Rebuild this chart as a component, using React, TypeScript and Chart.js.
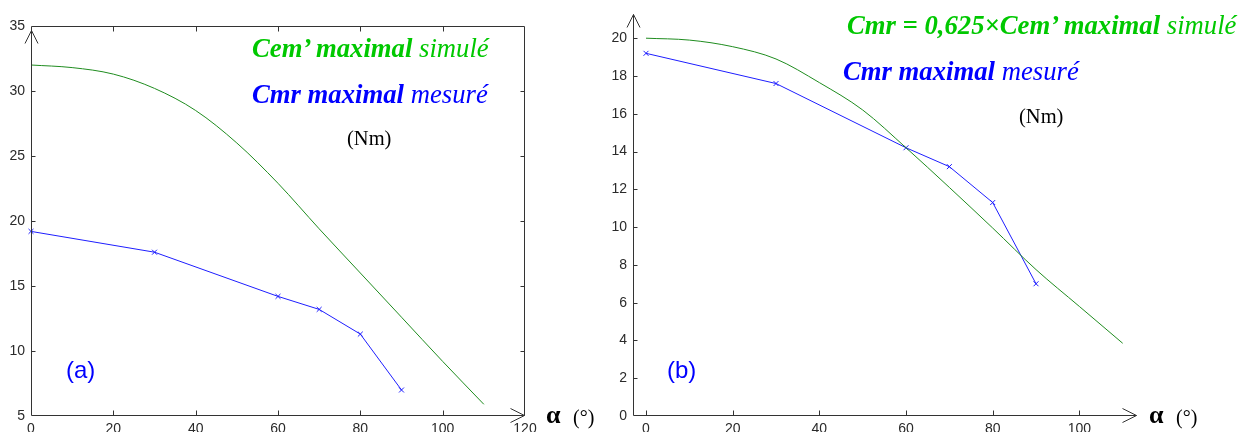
import React, { useEffect, useRef } from "react";
import { Chart, registerables } from "chart.js";
Chart.register(...registerables);

// ---- data ----
const alphaSim = [0, 10, 20, 30, 40, 50, 60, 70, 80, 90, 100, 110];
const cemSimA = [32.0, 31.8, 31.3, 30.2, 28.5, 26.0, 22.9, 19.4, 16.0, 12.6, 9.2, 5.9];
const cmrSimB = [20.0, 19.9, 19.55, 18.9, 17.65, 16.2, 14.2, 12.1, 9.95, 7.75, 5.8, 3.85];
const alphaMes = [0, 30, 60, 70, 80, 90];
const cmrMes = [19.2, 17.6, 14.2, 13.2, 11.3, 7.0];
const xTicksA = [0, 20, 40, 60, 80, 100, 120];
const yTicksA = [5, 10, 15, 20, 25, 30, 35];
const xTicksB = [0, 20, 40, 60, 80, 100];
const yTicksB = [0, 2, 4, 6, 8, 10, 12, 14, 16, 18, 20];

const GREEN_LINE = "#1f8c1f";
const BLUE_LINE = "#1e1eff";
const AXIS = "#333333";
const TICK_FONT = { family: "'Liberation Sans', Arial, sans-serif", size: 14 };

type DecorOpts = { box: boolean; tickLen: number; arrowX: boolean; arrowY: boolean };

const decorPlugin = {
  id: "decor",
  afterDraw(chart: any, _args: any, opts: DecorOpts) {
    const { ctx, chartArea } = chart;
    const { left, right, top, bottom } = chartArea;
    const xs = chart.scales.x;
    const ys = chart.scales.y;
    const L = Math.round(left) + 0.5;
    const R = Math.round(right) - 0.5;
    const T = Math.round(top) + 0.5;
    const B = Math.round(bottom) - 0.5;
    ctx.save();
    ctx.strokeStyle = AXIS;
    ctx.lineWidth = 1;
    ctx.beginPath();
    ctx.moveTo(L, T);
    ctx.lineTo(L, B);
    ctx.lineTo(R, B);
    if (opts.box) {
      ctx.moveTo(L, T);
      ctx.lineTo(R, T);
      ctx.lineTo(R, B);
    }
    const tl = opts.tickLen;
    xs.ticks.forEach((t: any) => {
      const px = Math.round(xs.getPixelForValue(t.value)) + 0.5;
      if (px <= L + 1 || px >= R - 1) return;
      ctx.moveTo(px, B);
      ctx.lineTo(px, B - tl);
      if (opts.box) {
        ctx.moveTo(px, T);
        ctx.lineTo(px, T + tl);
      }
    });
    ys.ticks.forEach((t: any) => {
      const py = Math.round(ys.getPixelForValue(t.value)) + 0.5;
      if (py >= B - 1 || (opts.box && py <= T + 1)) return;
      ctx.moveTo(L, py);
      ctx.lineTo(L + tl - 1, py);
      if (opts.box) {
        ctx.moveTo(R, py);
        ctx.lineTo(R - tl + 1, py);
      }
    });
    ctx.stroke();
    ctx.beginPath();
    if (opts.arrowY) {
      const ay = opts.box ? T + 4 : T;
      ctx.moveTo(L - 6.5, ay + 13);
      ctx.lineTo(L, ay);
      ctx.lineTo(L + 6.5, ay + 13);
    }
    if (opts.arrowX) {
      ctx.moveTo(R - 14, B - 7);
      ctx.lineTo(R, B);
      ctx.lineTo(R - 14, B + 7);
    }
    ctx.stroke();
    ctx.restore();
  },
};

function makeChart(
  canvas: HTMLCanvasElement,
  cfg: {
    xMin: number; xMax: number; yMin: number; yMax: number;
    xTicks: number[]; yTicks: number[];
    sim: number[]; yWidth: number; pad: { top: number; right: number };
    decor: DecorOpts;
  }
) {
  return new Chart(canvas, {
    type: "line",
    data: {
      datasets: [
        {
          label: "simulé",
          data: alphaSim.map((a, i) => ({ x: a, y: cfg.sim[i] })),
          borderColor: GREEN_LINE,
          borderWidth: 1,
          pointRadius: 0,
          cubicInterpolationMode: "monotone",
          fill: false,
        },
        {
          label: "mesuré",
          data: alphaMes.map((a, i) => ({ x: a, y: cmrMes[i] })),
          borderColor: BLUE_LINE,
          borderWidth: 1,
          pointStyle: "crossRot",
          pointRadius: 3.5,
          pointBorderWidth: 1,
          pointBorderColor: BLUE_LINE,
          tension: 0,
          fill: false,
        },
      ],
    },
    options: {
      animation: false,
      responsive: false,
      maintainAspectRatio: false,
      clip: false as any,
      layout: { padding: { top: cfg.pad.top, right: cfg.pad.right, left: 0, bottom: 0 } },
      plugins: {
        legend: { display: false },
        tooltip: { enabled: false },
        decor: cfg.decor,
      } as any,
      scales: {
        x: {
          type: "linear",
          min: cfg.xMin,
          max: cfg.xMax,
          grid: { display: false, drawTicks: false },
          border: { display: false },
          ticks: { font: TICK_FONT, color: "#2a2a2a", padding: 5, autoSkip: false, maxRotation: 0 },
          afterBuildTicks: (s: any) => {
            s.ticks = cfg.xTicks.map((v) => ({ value: v }));
          },
          afterFit: (s: any) => {
            s.height = 16;
          },
        },
        y: {
          type: "linear",
          min: cfg.yMin,
          max: cfg.yMax,
          grid: { display: false, drawTicks: false },
          border: { display: false },
          ticks: { font: TICK_FONT, color: "#2a2a2a", padding: 6, autoSkip: false },
          afterBuildTicks: (s: any) => {
            s.ticks = cfg.yTicks.map((v) => ({ value: v }));
          },
          afterFit: (s: any) => {
            s.width = cfg.yWidth;
          },
        },
      },
    } as any,
    plugins: [decorPlugin],
  });
}

const SERIF = "'Liberation Serif', 'Times New Roman', serif";
const SANS = "'Liberation Sans', Arial, sans-serif";

function Txt(props: {
  x: number; base: number; size: number; serif?: boolean; color: string; children: any;
  weight?: string; italic?: boolean;
}) {
  const k = props.serif === false ? 0.8465 : 0.8375;
  return (
    <div
      style={{
        position: "absolute",
        left: props.x,
        top: props.base - k * props.size,
        fontFamily: props.serif === false ? SANS : SERIF,
        fontSize: props.size,
        lineHeight: 1,
        color: props.color,
        whiteSpace: "nowrap",
        fontWeight: props.weight || "normal",
        fontStyle: props.italic ? "italic" : "normal",
      }}
    >
      {props.children}
    </div>
  );
}

export default function App() {
  const refA = useRef<HTMLCanvasElement>(null);
  const refB = useRef<HTMLCanvasElement>(null);

  useEffect(() => {
    const a = makeChart(refA.current!, {
      xMin: 0, xMax: 120, yMin: 5, yMax: 35,
      xTicks: xTicksA, yTicks: yTicksA, sim: cemSimA,
      yWidth: 31, pad: { top: 26, right: 75 },
      decor: { box: true, tickLen: 5, arrowX: true, arrowY: true },
    });
    const b = makeChart(refB.current!, {
      xMin: -3, xMax: 113.3, yMin: 0, yMax: 21.26,
      xTicks: xTicksB, yTicks: yTicksB, sim: cmrSimB,
      yWidth: 33, pad: { top: 12, right: 116 },
      decor: { box: false, tickLen: 5, arrowX: true, arrowY: true },
    });
    return () => {
      a.destroy();
      b.destroy();
    };
  }, []);

  const green = "#00c800";
  const blue = "#0000ff";
  return (
    <div style={{ position: "absolute", left: 0, top: 0, width: 1253, height: 432, overflow: "hidden", background: "#fff" }}>
      <canvas ref={refA} width={600} height={432} style={{ position: "absolute", left: 0, top: 0 }} />
      <canvas ref={refB} width={653} height={432} style={{ position: "absolute", left: 600, top: 0 }} />

      <Txt x={252} base={57} size={26.7} color={green}>
        <b><i>Cem’ maximal</i></b> <i>simulé</i>
      </Txt>
      <Txt x={252} base={103} size={26.7} color={blue}>
        <b><i>Cmr maximal</i></b> <i>mesuré</i>
      </Txt>
      <Txt x={347} base={145} size={20.5} color="#000">(Nm)</Txt>
      <Txt x={66} base={378} size={24} serif={false} color={blue}>(a)</Txt>
      <Txt x={546} base={424} size={26} color="#000" weight="bold">α</Txt>
      <Txt x={573} base={424} size={20} color="#000">(°)</Txt>

      <Txt x={847} base={34} size={26.7} color={green}>
        <b><i>Cmr = 0,625×Cem’ maximal</i></b> <i>simulé</i>
      </Txt>
      <Txt x={843} base={80} size={26.7} color={blue}>
        <b><i>Cmr maximal</i></b> <i>mesuré</i>
      </Txt>
      <Txt x={1019} base={123} size={20.5} color="#000">(Nm)</Txt>
      <Txt x={667} base={378} size={24} serif={false} color={blue}>(b)</Txt>
      <Txt x={1149} base={424} size={26} color="#000" weight="bold">α</Txt>
      <Txt x={1176} base={424} size={20} color="#000">(°)</Txt>
    </div>
  );
}
